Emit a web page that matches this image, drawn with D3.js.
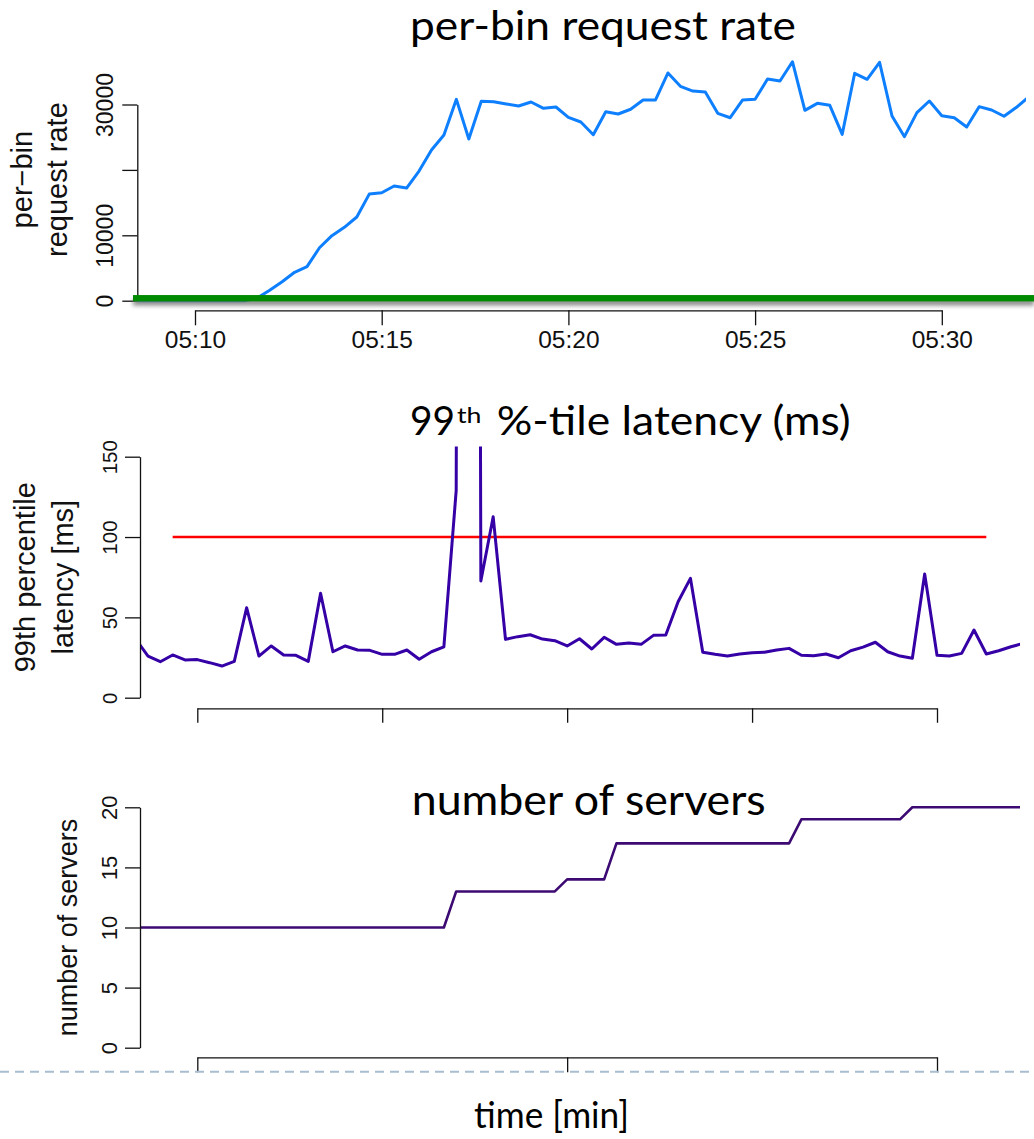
<!DOCTYPE html>
<html>
<head>
<meta charset="utf-8">
<script src="https://cdn.jsdelivr.net/npm/d3@7"></script>
<style>
  body { margin: 0; background: #fff; }
  svg { display: block; }
  .axis path, .axis line { stroke: #111; stroke-width: 1.3; }
  .axis text { font-family: "Liberation Sans", Arial, sans-serif; fill: #111; }
  .ylab { font-family: "Liberation Sans", Arial, sans-serif; fill: #111; }
  .title { font-family: Lato, "Open Sans", sans-serif; fill: #000; }
</style>
</head>
<body>
<div id="chart"></div>
<script>
// --- data (20 s bins starting at 05:08:20) ---
const binStart = "05:08:20";
const binSeconds = 20;

const requestRate = [
  0, 0, 0, 0, 0, 0, 0, 0, 0, 0,
  400, 1600, 2900, 4340, 5200, 8100, 9940, 11220, 12800, 16300,
  16500, 17540, 17230, 19830, 23040, 25340, 30790, 24720, 30490, 30430,
  30080, 29770, 30380, 29420, 29620, 28040, 27320, 25380, 28900, 28550,
  29270, 30690, 30690, 34820, 32780, 32060, 31910, 28650, 27980, 30690,
  30790, 33900, 33590, 36540, 29110, 30180, 29870, 25440, 34770, 33850,
  36450, 28240, 25080, 28750, 30540, 28290, 27980, 26560, 29670, 29160,
  28200, 29570, 31200
];

const latency99 = [
  36.6, 25.9, 22.4, 26.6, 23.5, 23.7, 21.8, 19.7, 22.6, 56.0,
  25.9, 32.2, 26.6, 26.4, 22.6, 65.0, 28.6, 32.2, 29.7, 29.5,
  27.0, 27.0, 29.7, 23.9, 28.6, 31.7, 129, 3000, 72.6, 112.6,
  36.3, 38.0, 39.2, 36.5, 35.5, 32.2, 36.7, 30.3, 37.6, 33.2,
  34.0, 33.2, 38.8, 39.0, 59.7, 74.3, 28.3, 27.0, 25.9, 27.2,
  28.0, 28.3, 29.7, 30.7, 26.4, 26.1, 27.2, 24.9, 29.2, 31.5,
  34.5, 28.6, 25.9, 24.5, 77.0, 26.4, 25.9, 27.6, 42.1, 27.2,
  29.2, 31.7, 33.8
];

// number of servers: [time, count] at each change point
const serverSteps = [
  ["05:08:20", 10], ["05:16:40", 10], ["05:17:00", 13], ["05:19:40", 13],
  ["05:20:00", 14], ["05:21:00", 14], ["05:21:20", 17], ["05:26:00", 17],
  ["05:26:20", 19], ["05:29:00", 19], ["05:29:20", 20], ["05:32:20", 20]
];

const latencyTarget = [["05:09:20", 100], ["05:31:20", 100]];

const rateTicks = [0, 10000, 20000, 30000];
const rateTickLabels = ["0", "10000", "", "30000"];
const latencyTicks = [0, 50, 100, 150];
const serverTicks = [0, 5, 10, 15, 20];
const timeTicks = ["05:10", "05:15", "05:20", "05:25", "05:30"];
const serverTimeTicks = ["05:10", "05:20", "05:30"];

// --- layout ---
const width = 1034, height = 1139;
const parseHMS = d3.timeParse("%H:%M:%S");
const parseHM = d3.timeParse("%H:%M");
const t0 = parseHMS(binStart);
const binTime = i => d3.timeSecond.offset(t0, i * binSeconds);

const svg = d3.select("#chart").append("svg")
  .attr("width", width)
  .attr("height", height);

const defs = svg.append("defs");

const shadow = defs.append("filter")
  .attr("id", "shadow")
  .attr("x", "-5%").attr("y", "-100%")
  .attr("width", "110%").attr("height", "400%");
shadow.append("feDropShadow")
  .attr("dx", 0).attr("dy", 4)
  .attr("stdDeviation", 2.2)
  .attr("flood-color", "#666")
  .attr("flood-opacity", 0.75);

function makePanel(cfg) {
  const p = {};
  p.x = d3.scaleTime()
    .domain([parseHM("05:10"), parseHM("05:30")])
    .range([cfg.x10, cfg.x30]);
  p.y = d3.scaleLinear().domain(cfg.yDomain).range([cfg.yBottom, cfg.yTop]);

  defs.append("clipPath").attr("id", cfg.id + "-clip")
    .append("rect")
    .attr("x", cfg.axisX)
    .attr("y", cfg.clipTop)
    .attr("width", cfg.clipRight - cfg.axisX)
    .attr("height", cfg.yBottom - cfg.clipTop + 20);

  p.plot = svg.append("g").attr("clip-path", `url(#${cfg.id}-clip)`);

  // x axis (R style: ticks down, line only between end ticks)
  const xAxis = d3.axisBottom(p.x)
    .tickValues(cfg.xTicks.map(parseHM))
    .tickFormat(cfg.xLabels ? d3.timeFormat("%H:%M") : () => "")
    .tickSizeInner(cfg.xTickLen)
    .tickSizeOuter(0);

  const xg = svg.append("g")
    .attr("class", "axis")
    .attr("transform", `translate(0,${cfg.axisY})`)
    .call(xAxis);
  xg.attr("font-family", null).attr("font-size", null);
  xg.selectAll(".tick text")
    .attr("y", cfg.xLabelY)
    .attr("dy", null)
    .style("font-size", "24.5px");

  // y axis with rotated labels
  const yAxis = d3.axisLeft(p.y)
    .tickValues(cfg.yTicks)
    .tickFormat((d, i) => cfg.yLabels[i])
    .tickSizeInner(15)
    .tickSizeOuter(0);

  const yg = svg.append("g")
    .attr("class", "axis")
    .attr("transform", `translate(${cfg.axisX},0)`)
    .call(yAxis);
  yg.attr("font-family", null).attr("font-size", null);
  yg.selectAll(".tick text")
    .attr("x", null)
    .attr("dy", null)
    .attr("text-anchor", "middle")
    .attr("transform", `translate(${-cfg.yLabelOff},0) rotate(-90)`)
    .style("font-size", cfg.yLabelSize + "px");

  // axis title, one text per line
  const cy = (cfg.yTop + cfg.yBottom) / 2 + cfg.titleShift;
  cfg.yTitle.forEach((line, i) => {
    svg.append("text")
      .attr("class", "ylab")
      .attr("text-anchor", "middle")
      .attr("transform", `translate(${cfg.yTitleX[i]},${cy}) rotate(-90)`)
      .style("font-size", cfg.yTitleSize + "px")
      .text(line);
  });

  return p;
}

// --- panel 1: per-bin request rate ---
const rate = makePanel({
  id: "rate",
  x10: 195, x30: 941.8,
  yDomain: [0, 30000], yBottom: 300.7, yTop: 104.5,
  axisX: 137.3, axisY: 310.3, clipTop: 40, clipRight: 1026,
  xTicks: timeTicks, xLabels: true, xTickLen: 15, xLabelY: 37.7,
  yTicks: rateTicks, yLabels: rateTickLabels, yLabelOff: 24, yLabelSize: 23,
  yTitle: ["per\u2212bin", "request rate"], yTitleX: [32, 67], yTitleSize: 29, titleShift: -23
});

rate.plot.append("path")
  .datum(requestRate)
  .attr("fill", "none")
  .attr("stroke", "#0d7fff")
  .attr("stroke-width", 3)
  .attr("stroke-linejoin", "round")
  .attr("d", d3.line().x((d, i) => rate.x(binTime(i))).y(d => rate.y(d)));

// green zero-level band with drop shadow
const bandH = 6.5;
svg.append("rect")
  .attr("x", rate.x.range()[0] - 62)
  .attr("width", width - (rate.x.range()[0] - 62))
  .attr("y", rate.y(0) - 2.4 - bandH / 2)
  .attr("height", bandH)
  .attr("fill", "#008a00")
  .attr("filter", "url(#shadow)");

// --- panel 2: 99th percentile latency ---
const lat = makePanel({
  id: "lat",
  x10: 197.3, x30: 937,
  yDomain: [0, 150], yBottom: 697.7, yTop: 456.7,
  axisX: 140, axisY: 708.3, clipTop: 446.5, clipRight: 1020,
  xTicks: timeTicks, xLabels: false, xTickLen: 14.5, xLabelY: 30,
  yTicks: latencyTicks, yLabels: latencyTicks.map(String), yLabelOff: 22.7, yLabelSize: 20.5,
  yTitle: ["99th percentile", "latency [ms]"], yTitleX: [35, 73], yTitleSize: 29, titleShift: 0
});

lat.plot.append("path")
  .datum(latencyTarget)
  .attr("fill", "none")
  .attr("stroke", "#ff0000")
  .attr("stroke-width", 2.6)
  .attr("d", d3.line().x(d => lat.x(parseHMS(d[0]))).y(d => lat.y(d[1])));

lat.plot.append("path")
  .datum(latency99)
  .attr("fill", "none")
  .attr("stroke", "#3500a6")
  .attr("stroke-width", 3)
  .attr("stroke-linejoin", "round")
  .attr("d", d3.line().x((d, i) => lat.x(binTime(i))).y(d => lat.y(d)));

// --- panel 3: number of servers ---
const srv = makePanel({
  id: "srv",
  x10: 197.3, x30: 937,
  yDomain: [0, 20], yBottom: 1047.7, yTop: 807.3,
  axisX: 140, axisY: 1057.3, clipTop: 790, clipRight: 1020,
  xTicks: serverTimeTicks, xLabels: false, xTickLen: 15, xLabelY: 30,
  yTicks: serverTicks, yLabels: serverTicks.map(String), yLabelOff: 23.3, yLabelSize: 22,
  yTitle: ["number of servers"], yTitleX: [76.7], yTitleSize: 27, titleShift: 0
});

srv.plot.append("path")
  .datum(serverSteps)
  .attr("fill", "none")
  .attr("stroke", "#3c0a72")
  .attr("stroke-width", 2.6)
  .attr("stroke-linejoin", "round")
  .attr("d", d3.line().x(d => srv.x(parseHMS(d[0]))).y(d => srv.y(d[1])));

// dashed slide separator
svg.append("line")
  .attr("x1", 0).attr("x2", width)
  .attr("y1", 1071.7).attr("y2", 1071.7)
  .attr("stroke", "#a9bdd0")
  .attr("stroke-width", 2)
  .attr("stroke-dasharray", "9,6");

// --- slide titles ---
function title(txt, x, y, size, len) {
  const t = svg.append("text")
    .attr("class", "title")
    .attr("x", x).attr("y", y)
    .style("font-size", size + "px")
    .text(txt);
  if (len) t.attr("textLength", len).attr("lengthAdjust", "spacingAndGlyphs");
  return t;
}

title("per-bin request rate", 410, 40, 40, 386);
title("99", 410, 435, 40, 45);
title("th", 457, 422.7, 22, 24.5);
title("%-tile latency (ms)", 496.7, 435, 40, 354);
title("number of servers", 411.7, 815, 42, 354);
title("time [min]", 474, 1128, 36, 155);
</script>
</body>
</html>
